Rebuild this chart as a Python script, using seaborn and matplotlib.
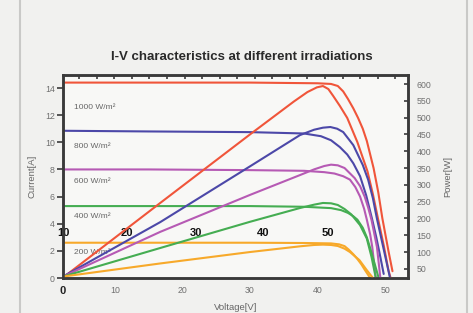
import matplotlib
import matplotlib.pyplot as plt
import numpy as np
import seaborn as sns
from matplotlib.lines import Line2D

matplotlib.use("Agg")

# --- data ---
irradiances = ["1000 W/m²", "800 W/m²", "600 W/m²", "400 W/m²", "200 W/m²"]
colors = ["#f0553a", "#4c48a8", "#b65ab4", "#45ad52", "#f7a92a"]

# I-V curves (voltage [V], current [A])
iv_1000_v = [2.3, 15, 30, 40, 42, 43, 43.8, 44.5, 45.3, 46, 46.7, 47.3, 48.3, 49.0, 49.6, 50.5, 51.1]
iv_1000_i = [14.4, 14.4, 14.4, 14.35, 14.3, 14.15, 13.75, 13.2, 12.5, 11.8, 11.0, 10.1, 8.1, 6.3, 4.4, 2.0, 0.5]
iv_800_v = [2.3, 15, 30, 38, 40.5, 42, 43.3, 44.4, 45.3, 46.3, 47.2, 48.1, 48.7, 49.2, 49.8]
iv_800_i = [10.85, 10.8, 10.75, 10.65, 10.45, 10.15, 9.65, 9.1, 8.45, 7.5, 6.1, 4.3, 3.0, 1.8, 0.3]
iv_600_v = [2.3, 15, 30, 38, 41, 42.5, 43.8, 44.8, 45.6, 46.3, 46.9, 47.3, 47.8, 48.1, 48.6]
iv_600_i = [8.0, 8.0, 7.95, 7.9, 7.8, 7.7, 7.5, 7.25, 6.7, 6.0, 5.1, 4.3, 3.2, 2.3, 0.1]
iv_400_v = [2.3, 15, 30, 38, 42, 43.5, 44.5, 45.3, 45.9, 46.7, 47.3, 47.8, 48.2, 49.0]
iv_400_i = [5.3, 5.3, 5.3, 5.25, 5.15, 5.0, 4.8, 4.55, 4.3, 3.7, 3.0, 2.2, 1.5, 0.1]
iv_200_v = [2.3, 15, 30, 38, 42, 43.2, 44.0, 44.6, 45.3, 45.9, 46.5, 47.0, 47.8]
iv_200_i = [2.6, 2.6, 2.6, 2.58, 2.55, 2.48, 2.35, 2.1, 1.75, 1.4, 1.0, 0.6, 0.0]

# P-V curves (voltage [V], power [W])
pv_1000_v = [2.3, 16.7, 30, 36.5, 38.5, 39.9, 40.8, 41.6, 42.3, 43.3, 44.4, 45.9, 47.4, 48.2, 49.0, 49.8, 50.5, 51.0]
pv_1000_p = [24, 246, 450, 548, 576, 590, 594, 585, 565, 535, 499, 427, 340, 272, 195, 120, 46, 10]
pv_800_v = [2.3, 16.7, 30, 37.4, 39.5, 40.8, 41.9, 42.9, 43.8, 45.3, 46.7, 47.5, 48.2, 48.8, 50.0, 50.7]
pv_800_p = [27, 189, 355, 448, 464, 470, 472, 467, 457, 418, 359, 315, 260, 199, 90, 26]
pv_600_v = [2.3, 16.7, 30, 37.4, 39.5, 41, 42, 43, 44, 45.5, 46.3, 47.0, 47.5, 48.0, 48.8, 49.3]
pv_600_p = [27, 160, 270, 329, 346, 356, 360, 358, 350, 320, 296, 264, 232, 195, 115, 24]
pv_400_v = [2.3, 16.7, 30, 37.4, 39.5, 40.8, 42, 43, 44, 45, 46.3, 47.3, 48.0, 48.6]
pv_400_p = [27, 112, 190, 231, 241, 246, 245, 240, 228, 212, 180, 140, 85, 26]
pv_200_v = [2.3, 16.7, 30, 37.4, 39.5, 40.8, 42, 43, 44, 44.8, 46.2, 47.3, 48.2]
pv_200_p = [27, 66, 100, 117, 121, 122, 121, 118, 110, 100, 76, 46, 23]

iv_curves = [(iv_1000_v, iv_1000_i), (iv_800_v, iv_800_i), (iv_600_v, iv_600_i),
             (iv_400_v, iv_400_i), (iv_200_v, iv_200_i)]
pv_curves = [(pv_1000_v, pv_1000_p), (pv_800_v, pv_800_p), (pv_600_v, pv_600_p),
             (pv_400_v, pv_400_p), (pv_200_v, pv_200_p)]

x_ticks = [2.3, 10, 20, 30, 40, 50]
x_tick_labels = ["0", "10", "20", "30", "40", "50"]
current_ticks = [0, 2, 4, 6, 8, 10, 12, 14]
power_ticks = [50, 100, 150, 200, 250, 300, 350, 400, 450, 500, 550, 600]
overlay_numbers = ["10", "20", "30", "40", "50"]

# where the text sits (axis units)
overlay_x = [2.3, 11.8, 22.0, 32.0, 41.6]
label_y = [12.6, 9.7, 7.1, 4.5, 1.85]

sns.set_style("white")
plt.rcParams["font.family"] = ["Liberation Sans", "DejaVu Sans"]

fig = plt.figure(figsize=(4.73, 3.13), dpi=100, facecolor="#f1f1ef")
ax = fig.add_axes([0.1332, 0.1118, 0.7294, 0.6486])
ax.set_facecolor("#f8f8f6")
ax2 = ax.twinx()

for (v, i), (pv, pp), c in zip(iv_curves, pv_curves, colors):
    sns.lineplot(x=v, y=i, ax=ax, color=c, linewidth=1.5, estimator=None, sort=False)
    sns.lineplot(x=pv, y=pp, ax=ax2, color=c, linewidth=1.5, estimator=None, sort=False)

ax.set_xlim(2.3, 53.4)
ax.set_ylim(0, 14.96)
ax2.set_ylim(22.7, 626.8)

ax.set_xticks(x_ticks)
ax.set_xticklabels(x_tick_labels)
ax.set_yticks(current_ticks)
ax2.set_yticks(power_ticks)

ax.tick_params(axis="both", direction="out", length=4, width=1.2, colors="#3a3a3a",
               labelsize=6.3, labelcolor="#707070", pad=2)
ax.get_xticklabels()[0].set_color("#222222")
ax.get_xticklabels()[0].set_fontsize(8)
ax.get_xticklabels()[0].set_fontweight("bold")
ax2.tick_params(axis="y", direction="in", length=3, width=1.2, colors="#3a3a3a",
                labelsize=6.3, labelcolor="#707070", pad=6)

top = ax.secondary_xaxis("top")
top.set_xticks(np.arange(4.7, 52, 2.6))
top.tick_params(direction="in", length=3, width=1.2, colors="#3a3a3a", labeltop=False)
top.spines["top"].set_visible(False)

for a in (ax, ax2):
    for s in a.spines.values():
        s.set_linewidth(1.8)
        s.set_color("#3a3a3a")

for name, y in zip(irradiances, label_y):
    ax.text(3.9, y, name, fontsize=6, color="#666666", va="center")

for txt, x in zip(overlay_numbers, overlay_x):
    ax.text(x, 3.3, txt, fontsize=8, fontweight="bold", color="#111111",
            ha="center", va="center")

ax.set_xlabel("Voltage[V]", fontsize=6.8, color="#666666", labelpad=5)
ax.set_ylabel("Current[A]", fontsize=6.8, color="#666666", labelpad=6)
ax2.set_ylabel("Power[W]", fontsize=6.8, color="#666666", labelpad=9)

fig.text(0.511, 0.818, "I-V characteristics at different irradiations",
         fontsize=9.5, fontweight="bold", color="#2a2a2a", ha="center", va="center")

fig.add_artist(Line2D([20 / 473, 20 / 473], [0, 1], color="#c9c9c7", linewidth=1.5))
fig.add_artist(Line2D([467 / 473, 467 / 473], [0, 1], color="#c9c9c7", linewidth=1.5))

fig.savefig("out.png", dpi=100, facecolor=fig.get_facecolor())
